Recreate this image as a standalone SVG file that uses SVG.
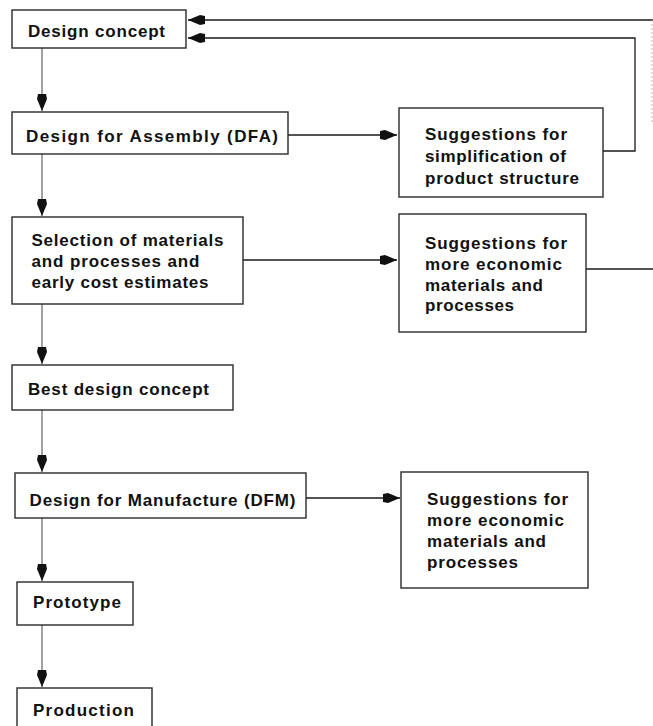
<svg xmlns="http://www.w3.org/2000/svg" width="653" height="726" viewBox="0 0 653 726">
  <style>
    .box { fill: #ffffff; stroke: #2a2a2a; stroke-width: 1.4; }
    .lbl { font-family: "Liberation Sans", Arial, sans-serif; font-weight: bold; font-size: 17px; fill: #111111; }
    .flow { fill: none; stroke: #555555; stroke-width: 1.1; }
    .link { fill: none; stroke: #1a1a1a; stroke-width: 1.3; }
    .faint { fill: none; stroke: #b5b5b5; stroke-width: 1; stroke-dasharray: 2 2; }
  </style>
  <defs>
    <marker id="ah" markerUnits="userSpaceOnUse" markerWidth="20" markerHeight="12" viewBox="0 0 20 12" refX="18" refY="6" orient="auto">
      <path d="M18,6 L6,1 L1,2 L1,10 L6,11 Z" fill="#111111"/>
    </marker>
  </defs>
  <rect width="653" height="726" fill="#ffffff"/>

  <!-- connectors -->
  <g id="connectors">
    <!-- main vertical chain -->
    <path class="flow" d="M42,48 V111" marker-end="url(#ah)"/>
    <path class="flow" d="M42,154 V216" marker-end="url(#ah)"/>
    <path class="flow" d="M42,304 V364" marker-end="url(#ah)"/>
    <path class="flow" d="M42,410 V472" marker-end="url(#ah)"/>
    <path class="flow" d="M42,518 V581" marker-end="url(#ah)"/>
    <path class="flow" d="M42,625 V687" marker-end="url(#ah)"/>
    <!-- side outputs -->
    <path class="link" d="M288,135 H397" marker-end="url(#ah)"/>
    <path class="link" d="M243,260 H397" marker-end="url(#ah)"/>
    <path class="link" d="M306,498 H400" marker-end="url(#ah)"/>
    <!-- feedback loops to the design concept -->
    <path class="link" d="M603,151 H635 V38 H188" marker-end="url(#ah)"/>
    <path class="link" d="M586,269 H653"/>
    <path class="link" d="M653,20 H188" marker-end="url(#ah)"/>
    <path class="faint" d="M652,20 V123"/>
  </g>

  <g id="design-concept">
    <rect class="box" x="12" y="10" width="174" height="38"/>
    <text class="lbl" x="28" y="37" textLength="137" lengthAdjust="spacing">Design concept</text>
  </g>

  <g id="dfa">
    <rect class="box" x="12" y="112" width="276" height="42"/>
    <text class="lbl" x="26" y="142" textLength="252" lengthAdjust="spacing">Design for Assembly (DFA)</text>
  </g>

  <g id="simplification">
    <rect class="box" x="399" y="108" width="204" height="89"/>
    <text class="lbl" x="425" y="140" textLength="142" lengthAdjust="spacing">Suggestions for</text>
    <text class="lbl" x="425" y="162" textLength="141" lengthAdjust="spacing">simplification of</text>
    <text class="lbl" x="425" y="184" textLength="154" lengthAdjust="spacing">product structure</text>
  </g>

  <g id="selection">
    <rect class="box" x="12" y="217" width="231" height="87"/>
    <text class="lbl" x="31.5" y="246" textLength="192" lengthAdjust="spacing">Selection of materials</text>
    <text class="lbl" x="31.5" y="267" textLength="168" lengthAdjust="spacing">and processes and</text>
    <text class="lbl" x="31.5" y="288" textLength="177" lengthAdjust="spacing">early cost estimates</text>
  </g>

  <g id="economic-1">
    <rect class="box" x="399" y="214" width="187" height="118"/>
    <text class="lbl" x="425" y="249" textLength="142" lengthAdjust="spacing">Suggestions for</text>
    <text class="lbl" x="425" y="270" textLength="137" lengthAdjust="spacing">more economic</text>
    <text class="lbl" x="425" y="291" textLength="118" lengthAdjust="spacing">materials and</text>
    <text class="lbl" x="425" y="311" textLength="89" lengthAdjust="spacing">processes</text>
  </g>

  <g id="best-concept">
    <rect class="box" x="12" y="365" width="221" height="45"/>
    <text class="lbl" x="28" y="395" textLength="181" lengthAdjust="spacing">Best design concept</text>
  </g>

  <g id="dfm">
    <rect class="box" x="15" y="473" width="291" height="45"/>
    <text class="lbl" x="29.5" y="506" textLength="266" lengthAdjust="spacing">Design for Manufacture (DFM)</text>
  </g>

  <g id="economic-2">
    <rect class="box" x="401" y="472" width="187" height="116"/>
    <text class="lbl" x="427" y="505" textLength="141" lengthAdjust="spacing">Suggestions for</text>
    <text class="lbl" x="427" y="526" textLength="137" lengthAdjust="spacing">more economic</text>
    <text class="lbl" x="427" y="547" textLength="119" lengthAdjust="spacing">materials and</text>
    <text class="lbl" x="427" y="568" textLength="91" lengthAdjust="spacing">processes</text>
  </g>

  <g id="prototype">
    <rect class="box" x="17" y="582" width="116" height="43"/>
    <text class="lbl" x="33" y="608" textLength="88" lengthAdjust="spacing">Prototype</text>
  </g>

  <g id="production">
    <rect class="box" x="17" y="688" width="135" height="50"/>
    <text class="lbl" x="33" y="716" textLength="101" lengthAdjust="spacing">Production</text>
  </g>
</svg>
